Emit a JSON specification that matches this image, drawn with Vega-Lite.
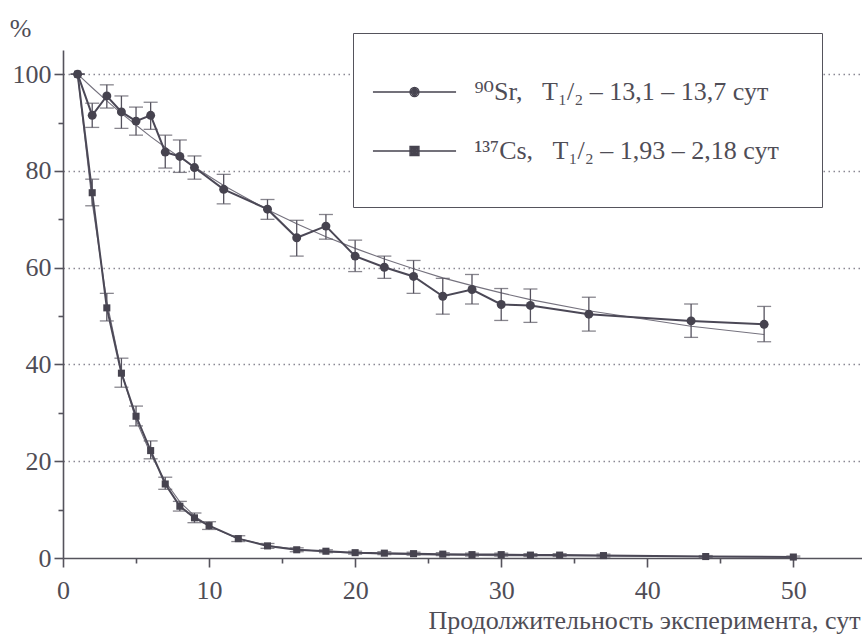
{
  "$schema": "https://vega.github.io/schema/vega-lite/v6.json",
  "width": 799,
  "height": 508,
  "autosize": {"type": "none"},
  "padding": {"left": 63, "top": 50, "right": 0, "bottom": 80},
  "background": "#ffffff",
  "config": {
    "view": {"stroke": null},
    "font": "Liberation Serif",
    "axis": {
      "labelFont": "Liberation Serif",
      "titleFont": "Liberation Serif",
      "labelColor": "#4f4d56",
      "titleColor": "#4f4d56",
      "domainColor": "#55535c",
      "tickColor": "#55535c",
      "domainWidth": 1.6,
      "tickWidth": 1.6,
      "labelFontSize": 26,
      "titleFontSize": 26,
      "titleFontWeight": "normal",
      "labelOverlap": false,
      "labelFlush": false
    }
  },
  "resolve": {"axis": {"y": "independent"}},
  "datasets": {
    "pts": [
      {"series": "Sr", "day": 1, "value": 100, "lo": 100, "hi": 100},
      {"series": "Sr", "day": 2, "value": 91.5, "lo": 89.0, "hi": 94.0},
      {"series": "Sr", "day": 3, "value": 95.5, "lo": 93.0, "hi": 97.8},
      {"series": "Sr", "day": 4, "value": 92.2, "lo": 88.8, "hi": 95.5},
      {"series": "Sr", "day": 5, "value": 90.3, "lo": 87.4, "hi": 93.2},
      {"series": "Sr", "day": 6, "value": 91.5, "lo": 88.6, "hi": 94.2},
      {"series": "Sr", "day": 7, "value": 83.9, "lo": 80.6, "hi": 87.4},
      {"series": "Sr", "day": 8, "value": 83.0, "lo": 79.7, "hi": 86.4},
      {"series": "Sr", "day": 9, "value": 80.7, "lo": 78.3, "hi": 83.1},
      {"series": "Sr", "day": 11, "value": 76.2, "lo": 73.2, "hi": 79.3},
      {"series": "Sr", "day": 14, "value": 72.1, "lo": 70.0, "hi": 74.1},
      {"series": "Sr", "day": 16, "value": 66.2, "lo": 62.4, "hi": 69.8},
      {"series": "Sr", "day": 18, "value": 68.6, "lo": 65.9, "hi": 71.0},
      {"series": "Sr", "day": 20, "value": 62.4, "lo": 59.2, "hi": 65.7},
      {"series": "Sr", "day": 22, "value": 60.1, "lo": 57.8, "hi": 62.4},
      {"series": "Sr", "day": 24, "value": 58.2, "lo": 54.7, "hi": 61.5},
      {"series": "Sr", "day": 26, "value": 54.1, "lo": 50.4, "hi": 57.8},
      {"series": "Sr", "day": 28, "value": 55.5, "lo": 52.5, "hi": 58.6},
      {"series": "Sr", "day": 30, "value": 52.4, "lo": 49.1, "hi": 55.7},
      {"series": "Sr", "day": 32, "value": 52.2, "lo": 48.7, "hi": 55.6},
      {"series": "Sr", "day": 36, "value": 50.4, "lo": 46.9, "hi": 53.9},
      {"series": "Sr", "day": 43, "value": 49.0, "lo": 45.6, "hi": 52.5},
      {"series": "Sr", "day": 48, "value": 48.3, "lo": 44.7, "hi": 52.0},
      {"series": "Cs", "day": 1, "value": 100, "lo": 100, "hi": 100},
      {"series": "Cs", "day": 2, "value": 75.5, "lo": 72.8, "hi": 78.3},
      {"series": "Cs", "day": 3, "value": 51.7, "lo": 49.0, "hi": 54.7},
      {"series": "Cs", "day": 4, "value": 38.2, "lo": 35.3, "hi": 41.3},
      {"series": "Cs", "day": 5, "value": 29.3, "lo": 27.3, "hi": 31.4},
      {"series": "Cs", "day": 6, "value": 22.2, "lo": 20.5, "hi": 24.2},
      {"series": "Cs", "day": 7, "value": 15.3, "lo": 14.2, "hi": 16.7},
      {"series": "Cs", "day": 8, "value": 10.7, "lo": 9.7, "hi": 11.7},
      {"series": "Cs", "day": 9, "value": 8.3, "lo": 7.3, "hi": 9.3},
      {"series": "Cs", "day": 10, "value": 6.7, "lo": 5.9, "hi": 7.5},
      {"series": "Cs", "day": 12, "value": 4.0, "lo": 3.4, "hi": 4.6},
      {"series": "Cs", "day": 14, "value": 2.5, "lo": 2.0, "hi": 3.0},
      {"series": "Cs", "day": 16, "value": 1.7, "lo": 1.3, "hi": 2.1},
      {"series": "Cs", "day": 18, "value": 1.4, "lo": 1.1, "hi": 1.7},
      {"series": "Cs", "day": 20, "value": 1.1, "lo": 0.8, "hi": 1.4},
      {"series": "Cs", "day": 22, "value": 1.0, "lo": 0.7, "hi": 1.3},
      {"series": "Cs", "day": 24, "value": 0.9, "lo": 0.6, "hi": 1.2},
      {"series": "Cs", "day": 26, "value": 0.8, "lo": 0.5, "hi": 1.1},
      {"series": "Cs", "day": 28, "value": 0.7, "lo": 0.4, "hi": 1.0},
      {"series": "Cs", "day": 30, "value": 0.7, "lo": 0.4, "hi": 1.0},
      {"series": "Cs", "day": 32, "value": 0.6, "lo": 0.3, "hi": 0.9},
      {"series": "Cs", "day": 34, "value": 0.6, "lo": 0.3, "hi": 0.9},
      {"series": "Cs", "day": 37, "value": 0.5, "lo": 0.2, "hi": 0.8},
      {"series": "Cs", "day": 44, "value": 0.3, "lo": 0.1, "hi": 0.5},
      {"series": "Cs", "day": 50, "value": 0.2, "lo": 0.0, "hi": 0.4}
    ],
    "fit": [
      {"series": "Sr", "day": 1, "value": 100},
      {"series": "Sr", "day": 2, "value": 97.2},
      {"series": "Sr", "day": 3, "value": 94.5},
      {"series": "Sr", "day": 4, "value": 91.9},
      {"series": "Sr", "day": 5, "value": 89.5},
      {"series": "Sr", "day": 6, "value": 87.1},
      {"series": "Sr", "day": 7, "value": 84.9},
      {"series": "Sr", "day": 8, "value": 82.8},
      {"series": "Sr", "day": 9, "value": 80.8},
      {"series": "Sr", "day": 11, "value": 77.0},
      {"series": "Sr", "day": 14, "value": 72.0},
      {"series": "Sr", "day": 16, "value": 69.1},
      {"series": "Sr", "day": 18, "value": 66.4},
      {"series": "Sr", "day": 20, "value": 64.0},
      {"series": "Sr", "day": 22, "value": 61.8},
      {"series": "Sr", "day": 24, "value": 59.8},
      {"series": "Sr", "day": 26, "value": 57.9},
      {"series": "Sr", "day": 28, "value": 56.3},
      {"series": "Sr", "day": 30, "value": 54.8},
      {"series": "Sr", "day": 32, "value": 53.4},
      {"series": "Sr", "day": 36, "value": 51.1},
      {"series": "Sr", "day": 43, "value": 47.9},
      {"series": "Sr", "day": 48, "value": 46.2},
      {"series": "Cs", "day": 1, "value": 100},
      {"series": "Cs", "day": 2, "value": 73.5},
      {"series": "Cs", "day": 3, "value": 53.0},
      {"series": "Cs", "day": 4, "value": 38.5},
      {"series": "Cs", "day": 5, "value": 28.5},
      {"series": "Cs", "day": 6, "value": 21.5},
      {"series": "Cs", "day": 7, "value": 15.8},
      {"series": "Cs", "day": 8, "value": 11.6},
      {"series": "Cs", "day": 9, "value": 8.7},
      {"series": "Cs", "day": 10, "value": 6.6},
      {"series": "Cs", "day": 12, "value": 4.0},
      {"series": "Cs", "day": 14, "value": 2.6},
      {"series": "Cs", "day": 16, "value": 1.8},
      {"series": "Cs", "day": 18, "value": 1.3},
      {"series": "Cs", "day": 20, "value": 1.0},
      {"series": "Cs", "day": 24, "value": 0.7},
      {"series": "Cs", "day": 30, "value": 0.5},
      {"series": "Cs", "day": 37, "value": 0.4},
      {"series": "Cs", "day": 44, "value": 0.3},
      {"series": "Cs", "day": 50, "value": 0.2}
    ]
  },
  "layer": [
    {
      "data": {"name": "fit"},
      "mark": {"type": "line", "strokeWidth": 1.1, "color": "#75727e", "clip": true},
      "encoding": {
        "x": {
          "field": "day", "type": "quantitative",
          "scale": {"domain": [0, 54.7], "nice": false, "zero": false},
          "axis": {
            "title": "Продолжительность эксперимента, сут",
            "titleFont": "Liberation Serif",
            "titleFontSize": 26,
            "labelFont": "Liberation Serif",
            "titleAnchor": "end", "titleAlign": "right",
            "titleX": 797, "titleY": 70, "titleBaseline": "alphabetic",
            "values": [0, 5, 10, 15, 20, 25, 30, 35, 40, 45, 50],
            "labelExpr": "datum.value % 10 === 0 ? datum.label : ''",
            "tickSize": {"condition": {"test": "datum.value % 10 === 0", "value": 9}, "value": 5},
            "labelPadding": 10,
            "grid": false
          }
        },
        "y": {
          "field": "value", "type": "quantitative",
          "scale": {"domain": [0, 105], "nice": false},
          "axis": {
            "orient": "left",
            "title": "%",
            "titleFont": "Liberation Serif",
            "labelFont": "Liberation Serif",
            "titleAngle": 0, "titleX": -43, "titleY": -22,
            "titleAlign": "center", "titleBaseline": "middle",
            "values": [0, 10, 20, 30, 40, 50, 60, 70, 80, 90, 100],
            "labelExpr": "datum.value % 20 === 0 ? datum.label : ''",
            "tickSize": {"condition": {"test": "datum.value % 20 === 0", "value": 9}, "value": 5},
            "labelPadding": 3,
            "grid": false
          }
        },
        "detail": {"field": "series", "type": "nominal"}
      }
    },
    {
      "data": {"name": "pts"},
      "mark": {"type": "line", "strokeWidth": 2, "color": "#4b4856"},
      "encoding": {
        "x": {"field": "day", "type": "quantitative"},
        "y": {
          "field": "value", "type": "quantitative",
          "axis": {
            "orient": "left",
            "title": null,
            "values": [20, 40, 60, 80, 100],
            "labels": false,
            "ticks": false,
            "domain": false,
            "grid": true,
            "gridDash": [1.5, 3.5],
            "gridColor": "#8a8893",
            "gridWidth": 1.3
          }
        },
        "detail": {"field": "series", "type": "nominal"}
      }
    },
    {
      "data": {"name": "pts"},
      "mark": {"type": "rule", "strokeWidth": 1.3, "color": "#55525e"},
      "encoding": {
        "x": {"field": "day", "type": "quantitative"},
        "y": {"field": "lo", "type": "quantitative", "axis": null},
        "y2": {"field": "hi"}
      }
    },
    {
      "data": {"name": "pts"},
      "mark": {"type": "tick", "orient": "horizontal", "size": 14, "thickness": 1.3, "color": "#55525e"},
      "encoding": {
        "x": {"field": "day", "type": "quantitative"},
        "y": {"field": "lo", "type": "quantitative", "axis": null}
      }
    },
    {
      "data": {"name": "pts"},
      "mark": {"type": "tick", "orient": "horizontal", "size": 14, "thickness": 1.3, "color": "#55525e"},
      "encoding": {
        "x": {"field": "day", "type": "quantitative"},
        "y": {"field": "hi", "type": "quantitative", "axis": null}
      }
    },
    {
      "data": {"name": "pts"},
      "transform": [{"filter": "datum.series === 'Sr'"}],
      "mark": {"type": "point", "shape": "circle", "filled": true, "size": 80, "color": "#46434f", "opacity": 1},
      "encoding": {
        "x": {"field": "day", "type": "quantitative"},
        "y": {"field": "value", "type": "quantitative", "axis": null}
      }
    },
    {
      "data": {"name": "pts"},
      "transform": [{"filter": "datum.series === 'Cs'"}],
      "mark": {"type": "point", "shape": "square", "filled": true, "size": 50, "color": "#46434f", "opacity": 1},
      "encoding": {
        "x": {"field": "day", "type": "quantitative"},
        "y": {"field": "value", "type": "quantitative", "axis": null}
      }
    },
    {
      "data": {"name": "pts"},
      "transform": [{"filter": "false"}],
      "mark": {"type": "point", "filled": false, "color": "#46434f", "strokeWidth": 1.3, "opacity": 1},
      "encoding": {
        "x": {"field": "day", "type": "quantitative"},
        "y": {"field": "value", "type": "quantitative", "axis": null},
        "shape": {
          "field": "series", "type": "nominal",
          "scale": {
            "domain": ["Sr", "Cs"],
            "range": [
              "M-2.77,0H2.77M0.3,0A0.3,0.3,0,1,1,-0.3,0A0.3,0.3,0,1,1,0.3,0ZM0.21,0A0.21,0.21,0,1,1,-0.21,0A0.21,0.21,0,1,1,0.21,0ZM0.12,0A0.12,0.12,0,1,1,-0.12,0A0.12,0.12,0,1,1,0.12,0ZM0.04,0A0.04,0.04,0,1,1,-0.04,0A0.04,0.04,0,1,1,0.04,0Z",
              "M-2.77,0H2.77M-0.3,-0.3H0.3V0.3H-0.3ZM-0.21,-0.21H0.21V0.21H-0.21ZM-0.12,-0.12H0.12V0.12H-0.12ZM-0.04,-0.04H0.04V0.04H-0.04Z"
            ]
          },
          "legend": {
            "orient": "none",
            "legendX": 290,
            "legendY": -17,
            "title": null,
            "padding": 43,
            "strokeColor": "#55535c",
            "fillColor": "#ffffff",
            "symbolSize": 900,
            "symbolOffset": 2.5,
            "symbolStrokeWidth": 1.3,
            "symbolStrokeColor": "#46434f",
            "symbolOpacity": 1,
            "labelOffset": 44,
            "labelBaseline": "middle",
            "rowPadding": 30,
            "labelFont": "Liberation Serif, DejaVu Serif",
            "labelFontSize": 26,
            "labelColor": "#4f4d56",
            "labelLimit": 700,
            "labelExpr": "datum.value === 'Sr' ? '⁹⁰Sr,\u00a0\u00a0\u00a0T₁/₂ – 13,1 – 13,7 сут' : '¹³⁷Cs,\u00a0\u00a0\u00a0T₁/₂ – 1,93 – 2,18 сут'"
          }
        }
      }
    }
  ]
}
